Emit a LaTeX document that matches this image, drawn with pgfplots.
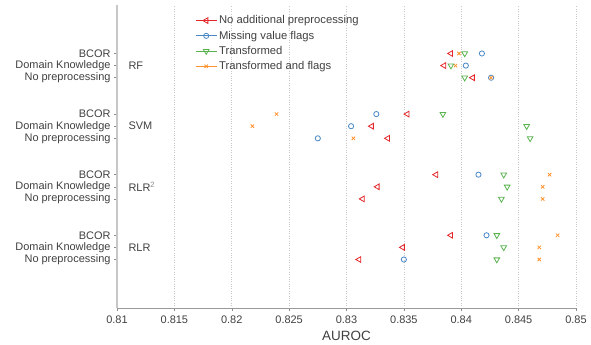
\documentclass[border=0pt]{standalone}
\usepackage{pgfplots}
\pgfplotsset{compat=1.18}
\usepackage{fontspec}
\setmainfont{Liberation Sans}
\definecolor{cred}{RGB}{228,38,42}
\definecolor{cblue}{RGB}{72,136,198}
\definecolor{cgreen}{RGB}{88,178,78}
\definecolor{corange}{RGB}{255,146,44}
\definecolor{ctext}{RGB}{64,64,64}
\begin{document}
\begin{tikzpicture}
\path[use as bounding box] (0,0) rectangle (591bp,345bp);
\begin{axis}[
  at={(117bp,37bp)}, anchor=south west,
  scale only axis, width=459bp, height=303bp,
  xmin=0.81, xmax=0.85, ymin=-3, ymax=22,
  axis x line=bottom, axis y line=left,
  axis line style={-},
  x axis line style={draw=black!40, line width=0.8bp},
  y axis line style={draw=black!22, line width=2bp},
  xtick={0.81,0.815,0.82,0.825,0.83,0.835,0.84,0.845,0.85},
  xticklabels={0.81,0.815,0.82,0.825,0.83,0.835,0.84,0.845,0.85},
  ytick={1,2,3,6,7,8,11,12,13,16,17,18},
  yticklabels={No preprocessing,Domain Knowledge,BCOR,No preprocessing,Domain Knowledge,BCOR,No preprocessing,Domain Knowledge,BCOR,No preprocessing,Domain Knowledge,BCOR},
  tick align=outside, major tick length=3bp,
  tick style={draw=black!45, line width=0.5bp},
  xmajorgrids, grid style={dotted, draw=black!22, line width=0.6bp},
  tick label style={font=\fontsize{11}{13}\selectfont, text=ctext},
  /pgf/number format/assume math mode=true,
  xticklabel style={yshift=-1bp},
  xlabel={AUROC},
  xlabel style={font=\fontsize{13.5}{15}\selectfont, text=ctext, yshift=-1bp},
  legend style={draw=none, fill=none, at={(0.168,0.975)}, anchor=north west,
    font=\fontsize{11.3}{13}\selectfont, text=ctext, row sep=1.6bp,
    inner sep=1bp},
  legend cell align=left,
  legend image code/.code={\draw[#1] (0bp,0bp) -- (21bp,0bp); \draw[#1] plot coordinates {(10.5bp,0bp)};},
  clip=false,
]
\addplot[only marks, cred, line width=0.8bp, mark=triangle, mark size=3.3bp, mark options={rotate=90, solid}] coordinates {
 (0.8391,18) (0.8385,17) (0.8410,16)
 (0.8353,13) (0.8322,12) (0.8336,11)
 (0.8378,8) (0.8327,7) (0.8314,6)
 (0.8391,3) (0.8349,2) (0.8311,1)
};
\addlegendentry{No additional preprocessing}
\addplot[only marks, cblue, line width=0.8bp, mark=o, mark size=2.6bp] coordinates {
 (0.8418,18) (0.8404,17) (0.8426,16)
 (0.8326,13) (0.8304,12) (0.8275,11)
 (0.8415,8)
 (0.8422,3) (0.8350,1)
};
\addlegendentry{Missing value flags}
\addplot[only marks, cgreen, line width=0.8bp, mark=triangle, mark size=3.3bp, mark options={rotate=180, solid}] coordinates {
 (0.8403,18) (0.8391,17) (0.8403,16)
 (0.8384,13) (0.8457,12) (0.8460,11)
 (0.8437,8) (0.8440,7) (0.8435,6)
 (0.8431,3) (0.8437,2) (0.8431,1)
};
\addlegendentry{Transformed}
\addplot[only marks, corange, line width=0.8bp, mark=x, mark size=2.4bp] coordinates {
 (0.8398,18) (0.8395,17) (0.8426,16)
 (0.8239,13) (0.8218,12) (0.8306,11)
 (0.8477,8) (0.8471,7) (0.8471,6)
 (0.8484,3) (0.8468,2) (0.8468,1)
};
\addlegendentry{Transformed and flags}
\node[anchor=west, xshift=8bp, text=ctext, font=\fontsize{11}{13}\selectfont] at (axis cs:0.81,17) {RF};
\node[anchor=west, xshift=8bp, text=ctext, font=\fontsize{11}{13}\selectfont] at (axis cs:0.81,12) {SVM};
\node[anchor=west, xshift=8bp, text=ctext, font=\fontsize{11}{13}\selectfont] at (axis cs:0.81,7) {RLR\textsuperscript{\color{black!45}2}};
\node[anchor=west, xshift=8bp, text=ctext, font=\fontsize{11}{13}\selectfont] at (axis cs:0.81,2) {RLR};
\end{axis}
\end{tikzpicture}
\end{document}
